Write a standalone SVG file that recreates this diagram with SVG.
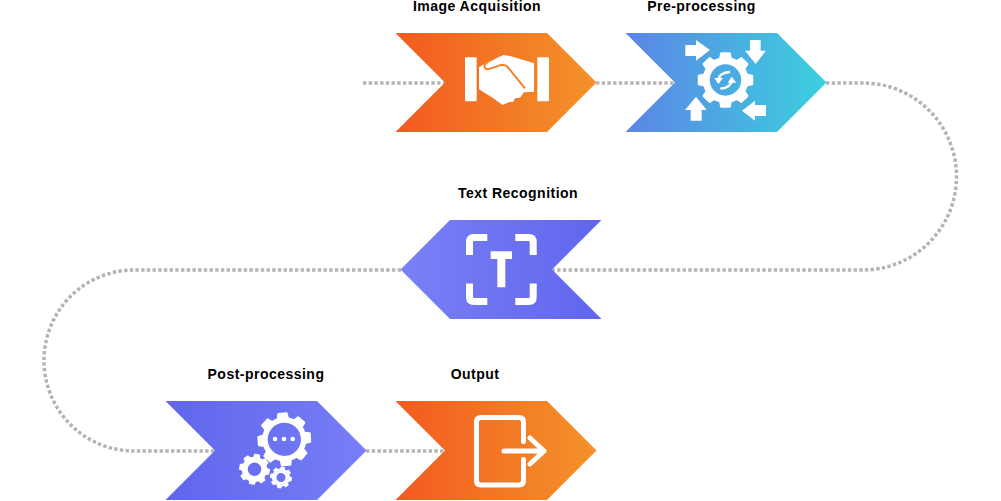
<svg xmlns="http://www.w3.org/2000/svg" xmlns:xlink="http://www.w3.org/1999/xlink" width="1001" height="501" viewBox="0 0 1001 501">
<style>
.lbl{font-family:"Liberation Sans",Arial,sans-serif;font-weight:700;font-size:14px;fill:#000;letter-spacing:.48px}
.dot{fill:none;stroke:#b4b4b6;stroke-width:3.5;stroke-dasharray:3.4 2.3}
.w{fill:#fff}
.ws{fill:none;stroke:#fff}
.gear{fill:#fff;fill-rule:evenodd;stroke:#fff;stroke-width:8;stroke-linejoin:round}
</style>
<defs>
<linearGradient id="gO" x1="0" x2="1" y1="0" y2="0"><stop offset="0" stop-color="#f35a1f"/><stop offset="1" stop-color="#f3932a"/></linearGradient>
<linearGradient id="gB" x1="0" x2="1" y1="0" y2="0"><stop offset="0" stop-color="#5b85e5"/><stop offset="1" stop-color="#3bd0de"/></linearGradient>
<linearGradient id="gT" x1="0" x2="1" y1="0" y2="0"><stop offset="0" stop-color="#7a80f6"/><stop offset="1" stop-color="#5f66ec"/></linearGradient>
<linearGradient id="gP" x1="0" x2="1" y1="0" y2="0"><stop offset="0" stop-color="#5f66ec"/><stop offset="1" stop-color="#777ef6"/></linearGradient>
<path id="cog" class="gear" d="M75.600 -19L95 -15.200V15.200L75.600 19A78 78 0 0 1 66.800 40.200L77.900 56.600L56.600 77.900L40.200 66.800A78 78 0 0 1 19 75.600L15.200 95H-15.200L-19 75.600A78 78 0 0 1 -40.200 66.800L-56.600 77.900L-77.900 56.600L-66.800 40.200A78 78 0 0 1 -75.600 19L-95 15.200V-15.200L-75.600 -19A78 78 0 0 1 -66.800 -40.200L-77.900 -56.600L-56.600 -77.900L-40.200 -66.800A78 78 0 0 1 -19 -75.600L-15.200 -95H15.200L19 -75.600A78 78 0 0 1 40.200 -66.800L56.600 -77.900L77.900 -56.600L66.800 -40.200A78 78 0 0 1 75.600 -19ZM65.500 0A65.500 65.500 0 1 0 -65.500 0A65.500 65.500 0 1 0 65.500 0Z"/>
</defs>
<g id="connectors">
<path class="dot" d="M363 83H445"/>
<path class="dot" d="M596 83H675"/>
<path class="dot" d="M826 83H863A93.500 93.500 0 0 1 863 270H552"/>
<path class="dot" d="M401 270H134A90 90.500 0 0 0 134 451H215"/>
<path class="dot" d="M366 451H445"/>
</g>
<g id="image-acquisition">
<text class="lbl" x="477" y="11" text-anchor="middle">Image Acquisition</text>
<polygon fill="url(#gO)" points="395.500,33 547,33 596.500,82.500 547,132 395.500,132 445,82.500"/>
<g transform="translate(460 50) scale(.3333)">
<rect class="w" x="15" y="22" width="35" height="132" rx="3"/>
<rect class="w" x="232" y="22" width="35" height="132" rx="3"/>
<path class="w" d="M57 52L88 32L92 34L115 22L130 15L150 18L222 40V125L192 127L180 143L165 145L160 155L146 157L128 165L100 145L57 118Z"/>
<path d="M95 27L76 42Q68 56 84 58L120 46Q134 42 142 50L195 115" fill="none" stroke="#f47f26" stroke-width="6"/>
</g>
</g>
<g id="pre-processing">
<text class="lbl" x="701.500" y="11" text-anchor="middle">Pre-processing</text>
<polygon fill="url(#gB)" points="625.500,33 777,33 826.500,82.500 777,132 625.500,132 675,82.500"/>
<use xlink:href="#cog" href="#cog" transform="translate(725.500 80) scale(.28)"/>
<circle class="ws" cx="725.500" cy="80" r="16.900" stroke-width="2.400"/>
<g transform="translate(620 0) scale(.3333)">
<path class="w" d="M196 135H228V120L270 150L228 182V168H196Z"/>
<path class="w" d="M390 120H422V152H438L407 192L375 152H390Z"/>
<path class="w" d="M212 362H245V330H260L228 290L195 330H212Z"/>
<path class="w" d="M438 315H405V302L366 332L405 362V348H438Z"/>
</g>
<g transform="translate(695 50) scale(.3333)">
<path class="ws" stroke-width="7" d="M70 90Q72 68 105 66"/>
<path class="w" d="M58 84H84L70 102Z"/>
<path class="ws" stroke-width="7" d="M110 92Q108 114 76 116"/>
<path class="w" d="M98 98H124L110 80Z"/>
</g>
</g>
<g id="text-recognition">
<text class="lbl" x="518" y="198" text-anchor="middle">Text Recognition</text>
<polygon fill="url(#gT)" points="400.500,269.500 450,220 601.500,220 552,269.500 601.500,319 450,319"/>
<path class="ws" stroke-width="7" d="M487.300 237.500H474Q469.500 237.500 469.500 242V255M515.300 237.500H528.700Q533.200 237.500 533.200 242V255M487.300 301.500H474Q469.500 301.500 469.500 297V283.500M515.300 301.500H528.700Q533.200 301.500 533.200 297V283.500"/>
<path class="w" d="M490.700 251.300H512V259H505.300V287.300H497.300V259H490.700Z"/>
</g>
<g id="post-processing">
<text class="lbl" x="266" y="379" text-anchor="middle">Post-processing</text>
<polygon fill="url(#gP)" points="165.500,401 317,401 366.500,450.500 317,500 165.500,500 215,450.500"/>
<use xlink:href="#cog" href="#cog" transform="translate(284.300 439.300) rotate(-4) scale(.27)"/>
<circle class="w" cx="275" cy="439" r="2.300"/><circle class="w" cx="284" cy="439" r="2.300"/><circle class="w" cx="292.700" cy="439" r="2.300"/>
<use xlink:href="#cog" href="#cog" transform="translate(254.500 469.300) rotate(10) scale(.155)"/>
<circle class="ws" cx="254.500" cy="469.300" r="8.500" stroke-width="3.500"/>
<use xlink:href="#cog" href="#cog" transform="translate(281 477.500) rotate(10) scale(.11)"/>
<circle class="ws" cx="281" cy="477.500" r="5.800" stroke-width="2.500"/>
</g>
<g id="output">
<text class="lbl" x="475" y="379" text-anchor="middle">Output</text>
<polygon fill="url(#gO)" points="395.500,401 547,401 596.500,450.500 547,500 395.500,500 445,450.500"/>
<path class="ws" stroke-width="5" stroke-linecap="round" d="M523.500 441.500V422Q523.500 417.500 519 417.500H481Q476.500 417.500 476.500 422V480.500Q476.500 485 481 485H519Q523.500 485 523.500 480.500V459.500"/>
<path class="ws" stroke-width="5" stroke-linecap="round" stroke-linejoin="round" d="M504 451H544M530 438L544 451L530 464"/>
</g>
</svg>
